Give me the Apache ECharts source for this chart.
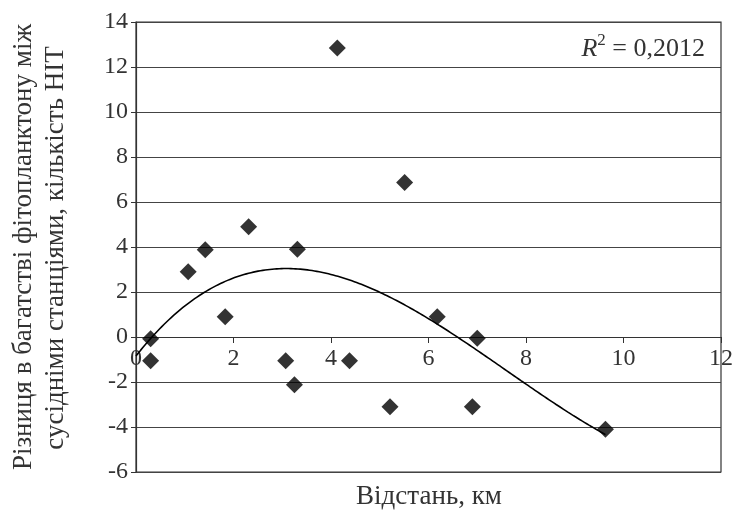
<!DOCTYPE html>
<html>
<head>
<meta charset="utf-8">
<script src="https://cdn.jsdelivr.net/npm/echarts@6/dist/echarts.min.js"></script>
<style>html,body{margin:0;padding:0;background:#fff}#c{width:736px;height:521px}</style>
</head>
<body>
<div id="c"></div>
<script>
// Distance, km
var xValues = [0.3, 0.3, 1.07, 1.42, 1.83, 2.31, 3.07, 3.25, 3.31, 4.13, 4.38, 5.21, 5.51, 6.18, 7.0, 6.9, 9.63];
// Difference in phytoplankton richness, number of taxa
var yValues = [-0.08, -1.05, 2.9, 3.88, 0.9, 4.9, -1.05, -2.12, 3.9, 12.85, -1.05, -3.1, 6.87, 0.9, -0.05, -3.1, -4.1];
var xTicks = [0, 2, 4, 6, 8, 10, 12];
var yTicks = [-6, -4, -2, 0, 2, 4, 6, 8, 10, 12, 14];
var r2Label = '0,2012';
var xTitle = 'Відстань, км';
var yTitle = ['Різниця в багатстві фітопланктону між', 'сусідніми станціями, кількість НІТ'];

// Polynomial (order 3) least-squares trendline computed from the data
function polyFit(xs, ys, order) {
  var n = order + 1, A = [], b = [];
  for (var i = 0; i < n; i++) { A.push(new Array(n).fill(0)); b.push(0); }
  for (var k = 0; k < xs.length; k++) {
    for (var i = 0; i < n; i++) {
      b[i] += ys[k] * Math.pow(xs[k], i);
      for (var j = 0; j < n; j++) A[i][j] += Math.pow(xs[k], i + j);
    }
  }
  for (var i = 0; i < n; i++) {
    var p = i;
    for (var r = i + 1; r < n; r++) if (Math.abs(A[r][i]) > Math.abs(A[p][i])) p = r;
    var t = A[i]; A[i] = A[p]; A[p] = t; var tb = b[i]; b[i] = b[p]; b[p] = tb;
    for (var r = i + 1; r < n; r++) {
      var f = A[r][i] / A[i][i];
      for (var c = i; c < n; c++) A[r][c] -= f * A[i][c];
      b[r] -= f * b[i];
    }
  }
  var coef = new Array(n).fill(0);
  for (var i = n - 1; i >= 0; i--) {
    var s = b[i];
    for (var c = i + 1; c < n; c++) s -= A[i][c] * coef[c];
    coef[i] = s / A[i][i];
  }
  return coef;
}
var coef = polyFit(xValues, yValues, 3);
function poly(x) { var s = 0; for (var i = 0; i < coef.length; i++) s += coef[i] * Math.pow(x, i); return s; }
var xMax = Math.max.apply(null, xValues);
var trend = [];
for (var i = 0; i <= 200; i++) { var x = xMax * i / 200; trend.push([x, poly(x)]); }

var pts = xValues.map(function (x, i) { return [x, yValues[i]]; });
var font = '"Liberation Serif", "DejaVu Serif", serif';

var gridTop = 22, gridBottom = 49, chartH = 521;
var plotH = chartH - gridTop - gridBottom;
var yMin = yTicks[0], yMax = yTicks[yTicks.length - 1];
var zeroOffset = -plotH * (0 - yMin) / (yMax - yMin);

var chart = echarts.init(document.getElementById('c'));
chart.setOption({
  animation: false,
  backgroundColor: '#fff',
  grid: { left: 136, right: 13, top: gridTop, bottom: gridBottom, show: true, borderColor: '#333', borderWidth: 1.2 },
  xAxis: {
    type: 'value', min: xTicks[0], max: xTicks[xTicks.length - 1], interval: 2,
    position: 'bottom', offset: zeroOffset,
    axisLine: { onZero: false, lineStyle: { color: '#333', width: 1.2 } },
    axisTick: { show: true, length: 6, lineStyle: { color: '#333' } },
    axisLabel: { fontFamily: font, fontSize: 24, color: '#333', margin: 10 },
    splitLine: { show: false }
  },
  yAxis: {
    type: 'value', min: yMin, max: yMax, interval: 2,
    axisLine: { show: true, onZero: false, lineStyle: { color: '#333', width: 1.2 } },
    axisTick: { show: true, length: 5, lineStyle: { color: '#333' } },
    axisLabel: { fontFamily: font, fontSize: 24, color: '#333', margin: 8 },
    splitLine: { show: true, lineStyle: { color: '#444', width: 1.2 } }
  },
  series: [
    { type: 'line', data: trend, showSymbol: false, symbol: 'none', lineStyle: { color: '#000', width: 1.6 }, z: 2 },
    { type: 'scatter', data: pts, symbol: 'diamond', symbolSize: 17, itemStyle: { color: '#000' }, z: 3 }
  ],
  graphic: [
    { type: 'text', right: 31, top: 32, style: {
      text: '{i|R}{s|2}{n| = ' + r2Label + '}',
      rich: {
        i: { fontFamily: font, fontStyle: 'italic', fontSize: 26, fill: '#333', verticalAlign: 'bottom', lineHeight: 30 },
        s: { fontFamily: font, fontSize: 17, fill: '#333', verticalAlign: 'top', lineHeight: 30 },
        n: { fontFamily: font, fontSize: 26, fill: '#333', verticalAlign: 'bottom', lineHeight: 30 }
      } } },
    { type: 'text', x: 429, y: 497, style: { text: xTitle, fontFamily: font, fontSize: 27, fill: '#333', align: 'center', verticalAlign: 'middle' } },
    { type: 'text', x: 24, y: 247, rotation: Math.PI / 2, style: { text: yTitle[0], fontFamily: font, fontSize: 27, fill: '#333', align: 'center', verticalAlign: 'middle' } },
    { type: 'text', x: 56, y: 248, rotation: Math.PI / 2, style: { text: yTitle[1], fontFamily: font, fontSize: 27, fill: '#333', align: 'center', verticalAlign: 'middle' } }
  ]
});
</script>
</body>
</html>
